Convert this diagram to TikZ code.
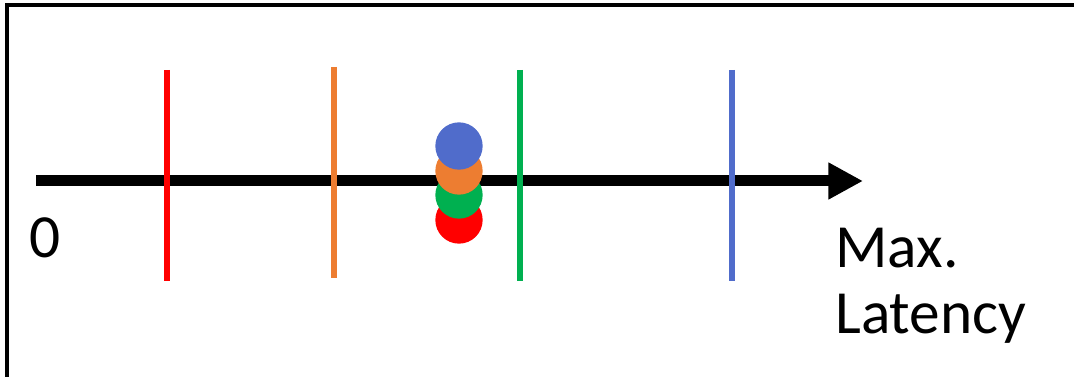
\documentclass[tikz,border=0pt]{standalone}
\usepackage{fontspec}
\setmainfont{Carlito}
\usetikzlibrary{arrows.meta}
\definecolor{latRed}{RGB}{255,0,0}
\definecolor{latOrange}{RGB}{237,125,49}
\definecolor{latGreen}{RGB}{0,176,80}
\definecolor{latBlue}{RGB}{80,108,203}

\begin{document}
\begin{tikzpicture}[x=0.75pt,y=-0.75pt,
  frame/.style={black,line width=3pt},
  axis/.style={-{Triangle[length=26pt,width=26pt]},line width=8.25pt},
  bound/.style={line width=4.8pt},
  dot/.style={circle,inner sep=0pt,minimum size=35.5pt},
  lbl/.style={font=\fontsize{46}{49.5}\selectfont,inner sep=0pt}]
  \useasboundingbox (0,0) rectangle (1074,377);
  % frame, cut off at right and bottom
  \draw[frame] (7,377) -- (7,5) -- (1074,5);
  % latency axis
  \coordinate (origin) at (36,181);
  \coordinate (tip) at (863,181);
  \draw[axis] (origin) -- (tip);
  % per-class bounds on the axis
  \foreach \x/\c/\t/\b in {167/latRed/70/281,334/latOrange/67/278,
                           520/latGreen/70/281,732/latBlue/70/281}
    \draw[bound,\c] (\x,\t) -- (\x,\b);
  % measured points, stacked
  \foreach \y/\c [count=\i] in {220/latRed,195/latGreen,171/latOrange,146/latBlue}
    \node[dot,fill=\c] (pt\i) at (459,\y) {};
  % labels
  \node[lbl,anchor=base west] (zero) at (29,258) {0};
  \node[lbl,anchor=base west,align=left] (maxlat) at (835,334) {Max.\\Latency};
\end{tikzpicture}
\end{document}
